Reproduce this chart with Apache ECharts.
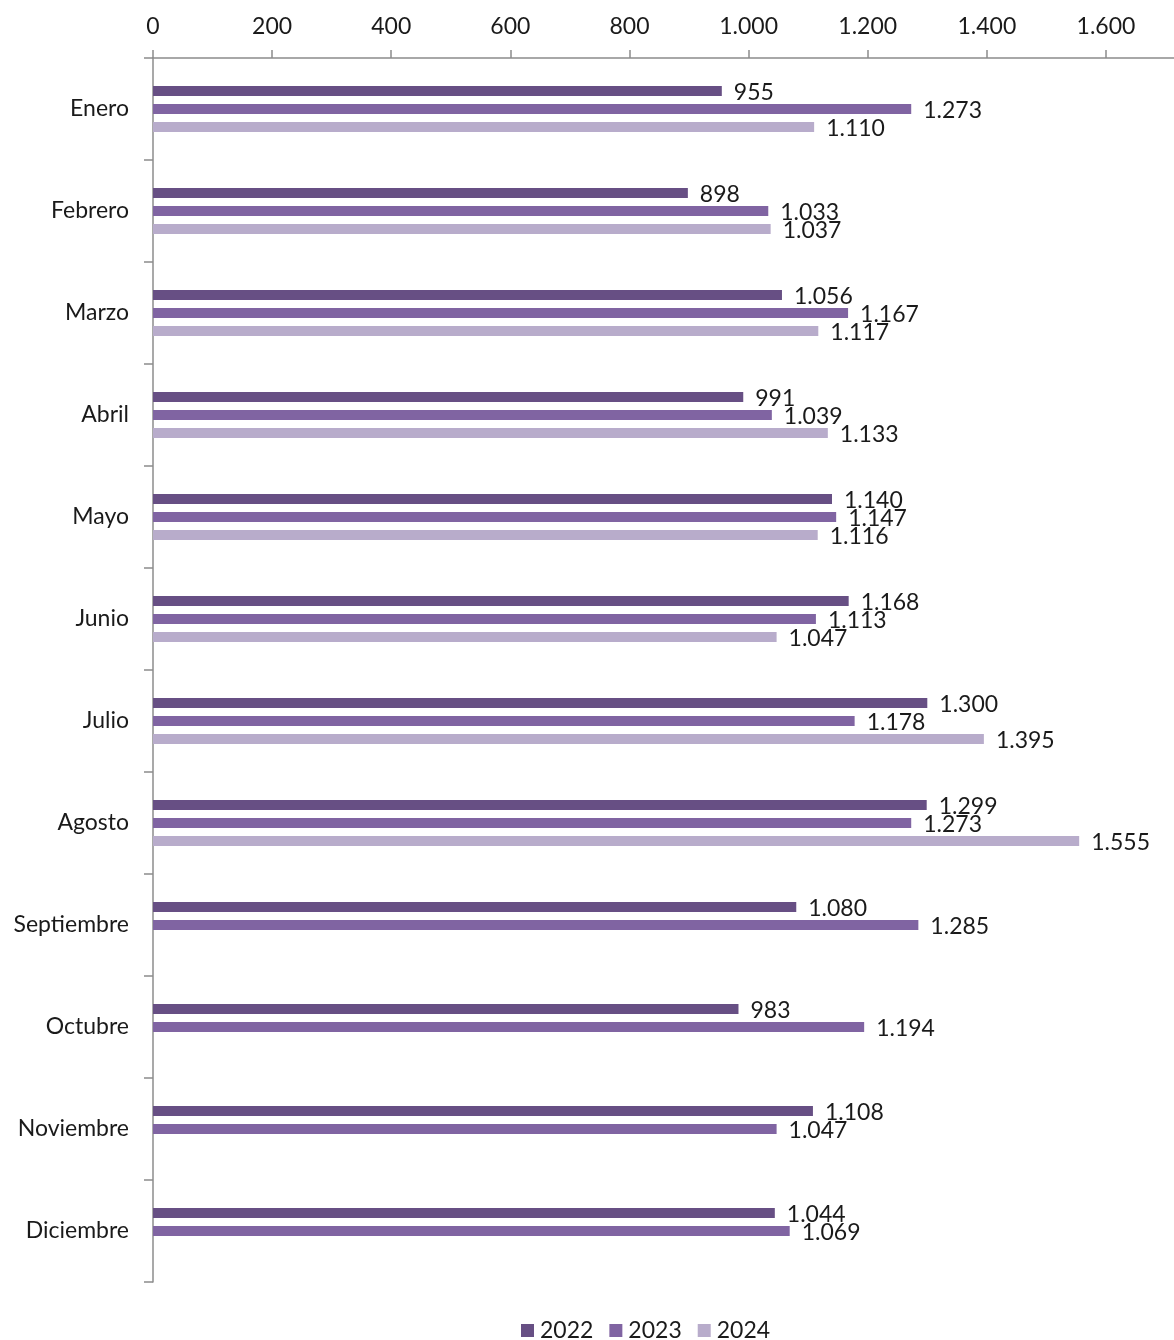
<!DOCTYPE html>
<html><head><meta charset="utf-8">
<script src="https://cdn.jsdelivr.net/npm/echarts@6/dist/echarts.min.js"></script>
<style>html,body{margin:0;padding:0;background:#fff}#c{width:1174px;height:1340px}</style>
</head><body><div id="c"></div>
<script>
const categories = ["Enero","Febrero","Marzo","Abril","Mayo","Junio","Julio","Agosto","Septiembre","Octubre","Noviembre","Diciembre"];
const s2022 = [955, 898, 1056, 991, 1140, 1168, 1300, 1299, 1080, 983, 1108, 1044];
const s2023 = [1273, 1033, 1167, 1039, 1147, 1113, 1178, 1273, 1285, 1194, 1047, 1069];
const s2024 = [1110, 1037, 1117, 1133, 1116, 1047, 1395, 1555, null, null, null, null];
const seriesNames = ["2022","2023","2024"];
const tickValues = [0,200,400,600,800,1000,1200,1400,1600];
const colors = ["#674f84","#8064a2","#b8accb"];

const fmt = v => String(v).replace(/\B(?=(\d{3})+(?!\d))/g, ".");
const FONT = "Lato";
const FS = 23;
const chart = echarts.init(document.getElementById('c'));
const mk = (name, data, color) => ({
  name, type:'bar', data, barWidth:10, barGap:'80%',
  itemStyle:{color},
  label:{show:true, position:'right', distance:12, offset:[0,2], fontFamily:FONT, fontSize:FS, color:'#1a1a1a',
    formatter:p => fmt(p.value)},
  emphasis:{disabled:true}
});
chart.setOption({
  animation:false,
  textStyle:{fontFamily:FONT},
  grid:{left:153, top:58, right:0, height:1224},
  legend:{bottom:-7, left:516, itemWidth:13, itemHeight:13, itemGap:16,
    icon:'rect', textStyle:{fontFamily:FONT, fontSize:FS, color:'#1a1a1a', padding:[0,0,0,1]},
    data:seriesNames},
  xAxis:{type:'value', position:'top', min:0, max:1714.2,
    splitLine:{show:false},
    axisLine:{show:true, lineStyle:{color:'#8c8c8c', width:1.5}},
    axisTick:{show:true, length:8, customValues:tickValues, lineStyle:{color:'#8c8c8c', width:1.5}},
    axisLabel:{customValues:tickValues, margin:20, fontFamily:FONT, fontSize:FS, color:'#1a1a1a', formatter:v=>fmt(v)}
  },
  yAxis:{type:'category', data:categories, inverse:true,
    axisLine:{show:true, lineStyle:{color:'#8c8c8c', width:1.5}},
    axisTick:{show:true, length:9, alignWithLabel:false, lineStyle:{color:'#8c8c8c', width:1.5}},
    axisLabel:{margin:24, fontFamily:FONT, fontSize:FS, color:'#1a1a1a'}
  },
  series:[mk(seriesNames[0], s2022, colors[0]), mk(seriesNames[1], s2023, colors[1]), mk(seriesNames[2], s2024, colors[2])]
});
</script></body></html>
